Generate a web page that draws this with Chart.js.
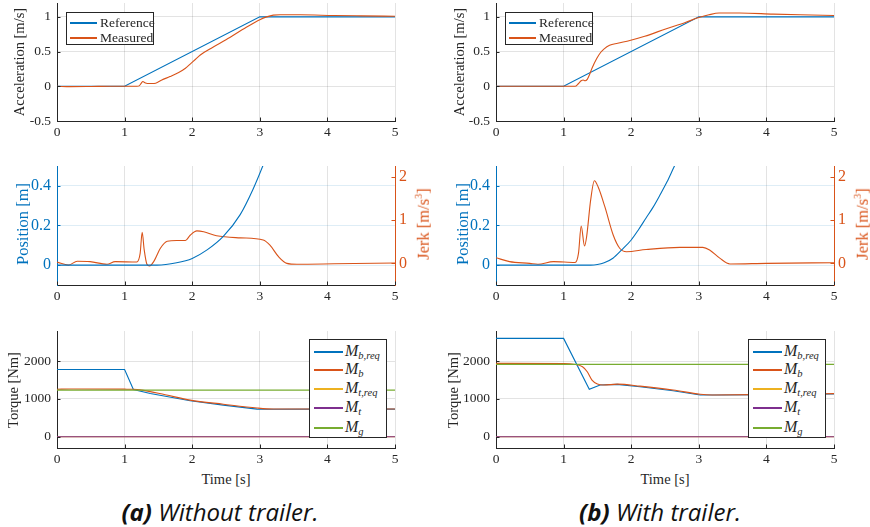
<!DOCTYPE html>
<html>
<head>
<meta charset="utf-8">
<script src="https://cdn.jsdelivr.net/npm/chart.js@4.4.0/dist/chart.umd.min.js"></script>
<style>
    body { margin: 0; width: 870px; height: 527px; position: relative; overflow: hidden; background: #fff;
           font-family: "Liberation Serif", "Times New Roman", serif; color: #262626; }
    canvas { position: absolute; }
    .lbl { position: absolute; white-space: nowrap; font-size: 14.5px; transform: translate(-50%, -50%); }
    .rot { transform: translate(-50%, -50%) rotate(-90deg); }
    .big { font-size: 16.5px; }
    .legend { position: absolute; background: #fff; border: 1px solid #262626; box-sizing: border-box; font-size: 13.5px; }
    .row { position: absolute; left: 0; right: 0; height: 0; }
    .row .swatch { position: absolute; }
    .row .txt { position: absolute; transform: translateY(-50%); white-space: nowrap; line-height: 1; }
    .m { font-style: italic; font-size: 16px; }
    .m sub { font-size: 10.5px; vertical-align: -3px; }
    .caption { position: absolute; transform: translate(-50%, -50%); font-family: "Open Sans", "Noto Sans", sans-serif;
               font-style: italic; font-size: 24px; color: #111; white-space: nowrap; }
</style>
</head>
<body>
<canvas id="accA"></canvas>
<canvas id="accB"></canvas>
<canvas id="posA"></canvas>
<canvas id="posB"></canvas>
<canvas id="trqA"></canvas>
<canvas id="trqB"></canvas>

<script>
// Tick values
const xTicks = [0, 1, 2, 3, 4, 5];
const accTicks = [-0.5, 0, 0.5, 1];
const posTicks = [0, 0.2, 0.4];
const jerkTicks = [0, 1, 2];
const torqueTicks = [0, 1000, 2000];

// Acceleration reference (same for both cases)
const accRefT = [0, 1, 3, 5];
const accRefV = [0, 0, 1, 1];

// (a) Without trailer
const accMeasT_a = [0, 0.2, 0.5, 0.8, 1.0, 1.18, 1.22, 1.25, 1.27, 1.3, 1.34, 1.4, 1.46, 1.55, 1.67, 1.8, 1.9, 1.97, 2.05, 2.12, 2.3, 2.5, 2.8, 3.0, 3.1, 3.2, 3.3, 3.6, 4.1, 4.5, 5];
const accMeasV_a = [0, -0.005, -0.003, 0, 0, 0, 0.01, 0.05, 0.07, 0.05, 0.04, 0.04, 0.045, 0.09, 0.14, 0.2, 0.26, 0.32, 0.39, 0.45, 0.56, 0.67, 0.85, 0.96, 1.0, 1.025, 1.03, 1.03, 1.02, 1.015, 1.01];
const posT_a = [0, 1.0, 1.48, 1.77, 2.0, 2.22, 2.46, 2.71, 2.9, 3.05, 3.1];
const posV_a = [0, 0, 0, 0.012, 0.034, 0.077, 0.145, 0.255, 0.383, 0.505, 0.55];
const jerkT_a = [0, 0.17, 0.3, 0.49, 0.74, 0.86, 1.18, 1.23, 1.26, 1.29, 1.33, 1.37, 1.43, 1.53, 1.63, 1.77, 1.9, 1.97, 2.07, 2.17, 2.36, 2.71, 3.05, 3.15, 3.28, 3.4, 3.55, 4.1, 5];
const jerkV_a = [0.03, -0.04, 0.05, 0.04, -0.02, 0.04, 0.03, 0.23, 0.72, 0.31, -0.02, -0.06, 0.04, 0.35, 0.51, 0.53, 0.53, 0.65, 0.75, 0.73, 0.64, 0.59, 0.54, 0.42, 0.15, 0, -0.02, -0.01, 0.01];
const trqT_a = [0, 1.0, 1.13, 1.38, 1.97, 2.46, 2.96, 3.1, 4, 5];
const mbReq_a = [1780, 1780, 1251, 1145, 950, 837, 731, 726, 730, 731];
const mbT_a = [0, 0.2, 1.0, 1.13, 1.23, 1.6, 1.97, 2.46, 2.96, 3.2, 4, 5];
const mb_a = [1255, 1265, 1259, 1255, 1240, 1110, 969, 860, 758, 732, 733, 735];
const mtReq_a = [0, 0];
const mt_a = [0, 0];
const mg_a = [1233, 1233];

// (b) With trailer
const accMeasT_b = [0, 0.5, 1.0, 1.17, 1.22, 1.26, 1.29, 1.32, 1.35, 1.38, 1.42, 1.49, 1.55, 1.6, 1.68, 1.8, 1.98, 2.2, 2.52, 2.8, 3.0, 3.15, 3.3, 3.6, 4.1, 4.5, 5];
const accMeasV_b = [0, 0, 0, 0, 0.04, 0.08, 0.09, 0.08, 0.1, 0.16, 0.26, 0.4, 0.49, 0.54, 0.59, 0.62, 0.66, 0.72, 0.83, 0.92, 0.99, 1.03, 1.055, 1.055, 1.04, 1.03, 1.02];
const posT_b = [0, 1.0, 1.4, 1.5, 1.6, 1.73, 1.86, 2.0, 2.11, 2.22, 2.32, 2.42, 2.53, 2.64, 2.7];
const posV_b = [0, 0, 0, 0.003, 0.012, 0.035, 0.077, 0.127, 0.18, 0.238, 0.29, 0.35, 0.42, 0.5, 0.54];
const jerkT_b = [0, 0.2, 0.5, 0.62, 0.85, 1.17, 1.22, 1.26, 1.31, 1.34, 1.4, 1.455, 1.51, 1.61, 1.735, 1.83, 1.93, 2.22, 2.72, 3.06, 3.16, 3.31, 3.46, 4, 5];
const jerkV_b = [0.13, 0.04, 0, -0.02, 0.04, 0.02, 0.23, 0.86, 0.4, 0.61, 1.46, 1.91, 1.77, 1.31, 0.65, 0.35, 0.27, 0.32, 0.37, 0.37, 0.31, 0.12, -0.015, 0, 0.015];
const trqT_b = [0, 1.0, 1.38, 1.54, 1.79, 2.13, 2.62, 3.02, 3.3, 4, 5];
const mbReq_b = [2604, 2604, 1254, 1368, 1386, 1323, 1217, 1103, 1103, 1112, 1130];
const mbT_b = [0, 1.0, 1.15, 1.28, 1.35, 1.42, 1.5, 1.59, 1.8, 2.13, 2.62, 3.02, 3.2, 4, 5];
const mb_b = [1942, 1935, 1918, 1852, 1720, 1500, 1394, 1368, 1392, 1340, 1238, 1125, 1106, 1118, 1140];
const mtReq_b = [0, 0];
const mt_b = [0, 0];
const mg_b = [1915, 1915];

const BLUE = '#0072BD', ORANGE = '#D95319', YELLOW = '#EDB120', PURPLE = '#7E2F8E', GREEN = '#77AC30';
const AXIS = '#262626';
const GRID = 'rgba(38,38,38,0.13)';
const GRID_BLUE = 'rgba(0,114,189,0.13)';
const SERIF = 'Liberation Serif, Times New Roman, serif';
const FONT = { family: SERIF, size: 13.5 };
const FONT_BIG = { family: SERIF, size: 16 };
const END = [0, 5];

// short tick marks drawn inside the axes, as in the original figure
const innerTicks = {
    id: 'innerTicks',
    afterDatasetsDraw(chart) {
        const ctx = chart.ctx, a = chart.chartArea;
        ctx.save();
        ctx.lineWidth = 1;
        Object.values(chart.scales).forEach(s => {
            ctx.strokeStyle = s.options.border.color;
            s.ticks.forEach(t => {
                const p = Math.round(s.getPixelForValue(t.value)) + 0.5;
                ctx.beginPath();
                if (s.isHorizontal()) {
                    ctx.moveTo(p, a.bottom); ctx.lineTo(p, a.bottom - 3.5);
                } else if (s.position === 'left') {
                    ctx.moveTo(a.left, p); ctx.lineTo(a.left + 3.5, p);
                } else {
                    ctx.moveTo(a.right, p); ctx.lineTo(a.right - 3.5, p);
                }
                ctx.stroke();
            });
        });
        ctx.restore();
    }
};

function pts(t, v) {
    return t.map((x, i) => ({ x: x, y: v[i] }));
}

function line(t, v, color, smooth) {
    return {
        data: pts(t, v),
        borderColor: color,
        borderWidth: 1.1,
        pointRadius: 0,
        fill: false,
        cubicInterpolationMode: smooth ? 'monotone' : 'default',
        tension: 0
    };
}

function xAxis(h) {
    return {
        type: 'linear', min: 0, max: 5,
        afterBuildTicks: s => { s.ticks = xTicks.map(v => ({ value: v })); },
        afterFit: s => { s.height = h; s.paddingLeft = 0; s.paddingRight = 0; },
        grid: { color: GRID, drawTicks: false },
        border: { color: AXIS, width: 1 },
        ticks: { color: AXIS, font: FONT, padding: 3, autoSkip: false, maxRotation: 0, callback: v => String(v) }
    };
}

function yAxis(pos, w, min, max, tickVals, color, gridColor, font) {
    return {
        type: 'linear', position: pos, min: min, max: max,
        afterBuildTicks: s => { s.ticks = tickVals.map(v => ({ value: v })); },
        afterFit: s => { s.width = w; s.paddingTop = 0; s.paddingBottom = 0; },
        grid: gridColor ? { color: gridColor, drawTicks: false } : { display: false, drawTicks: false },
        border: { color: color, width: 1 },
        ticks: { color: color, font: font || FONT, padding: pos === 'left' ? 6 : 4, autoSkip: false, callback: v => String(v) }
    };
}

function makeChart(id, box, datasets, scales, padding) {
    const canvas = document.getElementById(id);
    canvas.width = box.w;
    canvas.height = box.h;
    canvas.style.left = box.x + 'px';
    canvas.style.top = box.y + 'px';
    // later datasets drawn on top, like the original plots
    datasets.forEach((d, i) => { d.order = datasets.length - i; });
    return new Chart(canvas, {
        type: 'line',
        data: { datasets: datasets },
        plugins: [innerTicks],
        options: {
            responsive: false,
            devicePixelRatio: 1,
            animation: false,
            layout: { padding: padding },
            plugins: { legend: { display: false }, tooltip: { enabled: false } },
            scales: scales
        }
    });
}

// Column geometry: left column canvas 0..440, right column canvas 440..870
const cols = [
    { x: 0, w: 440, yw: 57, rw: 45 },
    { x: 440, w: 430, yw: 56, rw: 36 }
];

function accChart(id, col, measT, measV) {
    makeChart(id, { x: col.x, y: 0, w: col.w, h: 140 },
        [line(accRefT, accRefV, BLUE, false), line(measT, measV, ORANGE, true)],
        { x: xAxis(19), y: yAxis('left', col.yw, -0.5, 1.2, accTicks, AXIS, GRID) },
        { top: 3, right: col.rw, left: 0, bottom: 0 });
}

function posChart(id, col, posT, posV, jerkT, jerkV) {
    const jerk = line(jerkT, jerkV, ORANGE, true);
    jerk.yAxisID = 'y2';
    const pos = line(posT, posV, BLUE, true);
    pos.yAxisID = 'y';
    makeChart(id, { x: col.x, y: 150, w: col.w, h: 155 },
        [jerk, pos],
        {
            x: xAxis(20),
            y: yAxis('left', col.yw, -0.1, 0.5, posTicks, BLUE, GRID_BLUE, FONT_BIG),
            y2: yAxis('right', col.rw, -0.5, 2.25, jerkTicks, ORANGE, null, FONT_BIG)
        },
        { top: 16, right: 0, left: 0, bottom: 0 });
}

function trqChart(id, col, reqT, req, mbT, mb, mtReq, mt, mg) {
    makeChart(id, { x: col.x, y: 320, w: col.w, h: 150 },
        [line(reqT, req, BLUE, false), line(mbT, mb, ORANGE, true),
         line(END, mtReq, YELLOW, false), line(END, mt, PURPLE, false), line(END, mg, GREEN, false)],
        { x: xAxis(22), y: yAxis('left', col.yw, -300, 2800, torqueTicks, AXIS, GRID) },
        { top: 11, right: col.rw, left: 0, bottom: 0 });
}

function drawAll() {
    accChart('accA', cols[0], accMeasT_a, accMeasV_a);
    accChart('accB', cols[1], accMeasT_b, accMeasV_b);
    posChart('posA', cols[0], posT_a, posV_a, jerkT_a, jerkV_a);
    posChart('posB', cols[1], posT_b, posV_b, jerkT_b, jerkV_b);
    trqChart('trqA', cols[0], trqT_a, mbReq_a, mbT_a, mb_a, mtReq_a, mt_a, mg_a);
    trqChart('trqB', cols[1], trqT_b, mbReq_b, mbT_b, mb_b, mtReq_b, mt_b, mg_b);
}

// make sure the serif face is ready before the canvases draw their tick labels
if (document.fonts && document.fonts.load) {
    Promise.all([
        document.fonts.load('13.5px "Liberation Serif"'),
        document.fonts.load('16px "Liberation Serif"')
    ]).then(drawAll, drawAll);
} else {
    drawAll();
}

// Labels, legends and captions as HTML overlays
function addLabel(html, cx, cy, cls, color) {
    const d = document.createElement('div');
    d.className = 'lbl' + (cls ? ' ' + cls : '');
    d.innerHTML = html;
    d.style.left = cx + 'px';
    d.style.top = cy + 'px';
    if (color) d.style.color = color;
    document.body.appendChild(d);
}

function addLegend(x, y, w, h, items, rowY, swX, swW, txtX, swH) {
    const box = document.createElement('div');
    box.className = 'legend';
    Object.assign(box.style, { left: x + 'px', top: y + 'px', width: w + 'px', height: h + 'px' });
    items.forEach((it, i) => {
        const row = document.createElement('div');
        row.className = 'row';
        row.style.top = rowY[i] + 'px';
        const sw = document.createElement('div');
        sw.className = 'swatch';
        Object.assign(sw.style, { left: swX + 'px', width: swW + 'px', background: it.color, top: -swH / 2 + 'px', height: swH + 'px' });
        const tx = document.createElement('div');
        tx.className = 'txt';
        tx.style.left = txtX + 'px';
        tx.innerHTML = it.label;
        row.appendChild(sw);
        row.appendChild(tx);
        box.appendChild(row);
    });
    document.body.appendChild(box);
}

const accLegend = [{ label: 'Reference', color: BLUE }, { label: 'Measured', color: ORANGE }];
const trqLegend = [
    { label: '<span class="m">M<sub>b,req</sub></span>', color: BLUE },
    { label: '<span class="m">M<sub>b</sub></span>', color: ORANGE },
    { label: '<span class="m">M<sub>t,req</sub></span>', color: YELLOW },
    { label: '<span class="m">M<sub>t</sub></span>', color: PURPLE },
    { label: '<span class="m">M<sub>g</sub></span>', color: GREEN }
];

[0, 1].forEach(c => {
    const ox = cols[c].x;
    const plotL = ox + cols[c].yw;
    const plotR = c === 0 ? 395 : 834;
    const mid = (plotL + plotR) / 2;

    addLabel('Acceleration [m/s]', ox + 19, 62, 'rot');
    addLabel('Position [m]', ox + 23, 224, 'rot big', BLUE);
    addLabel('Jerk [m/s<sup style="font-size:10px">3</sup>]', plotR + 28, 224, 'rot big', ORANGE);
    addLabel('Torque [Nm]', ox + 13, 390, 'rot');
    addLabel('Time [s]', mid, 479);

    addLegend(ox + (c === 0 ? 66 : 65), 12, 88, 33, accLegend, [10, 25], 3, 27, 33, 1.2);
    addLegend(ox + (c === 0 ? 309 : 308), 339, 78, 99, trqLegend, [11.5, 30, 49, 68, 87.5], 4, 29, 35, 2);
});

const capA = document.createElement('div');
capA.className = 'caption';
capA.innerHTML = '<b>(a)</b> Without trailer.';
Object.assign(capA.style, { left: '220px', top: '511px' });
document.body.appendChild(capA);

const capB = document.createElement('div');
capB.className = 'caption';
capB.innerHTML = '<b>(b)</b> With trailer.';
Object.assign(capB.style, { left: '660px', top: '511px' });
document.body.appendChild(capB);
</script>
</body>
</html>
